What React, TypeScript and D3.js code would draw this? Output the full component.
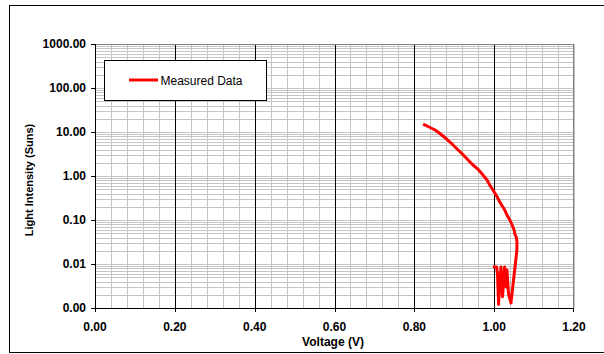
import React from "react";
import * as d3 from "d3";

const xTickValues = [0, 0.2, 0.4, 0.6, 0.8, 1.0, 1.2];
const xTickLabels = ["0.00", "0.20", "0.40", "0.60", "0.80", "1.00", "1.20"];
const yTickValues = [0.001, 0.01, 0.1, 1, 10, 100, 1000];
const yTickLabels = ["0.00", "0.01", "0.10", "1.00", "10.00", "100.00", "1000.00"];

const voltage = [
  0.822, 0.837, 0.852, 0.864, 0.877, 0.892, 0.909, 0.922, 0.934, 0.947, 0.959,
  0.972, 0.982, 0.989, 0.997, 1.007, 1.014, 1.025, 1.032, 1.040, 1.045, 1.050,
  1.052, 1.056, 1.057, 1.057, 1.042, 1.036, 1.032, 1.030, 1.026, 1.021, 1.017, 1.011,
  1.0085, 1.006, 0.997,
];
const intensity = [
  15.1, 13.0, 11.1, 9.25, 7.41, 5.62, 3.96, 3.05, 2.35, 1.78, 1.44,
  1.05, 0.81, 0.62, 0.48, 0.342, 0.256, 0.178, 0.13, 0.0975, 0.0769, 0.0593,
  0.0481, 0.039, 0.0316, 0.0208, 0.0013, 0.0021, 0.0073, 0.003, 0.0085, 0.0018, 0.0085, 0.0012,
  0.0059, 0.0085, 0.0085,
];

const L = 95, R = 574, T = 44, B = 308;

export default function App() {
  const x = d3.scaleLinear().domain([0, 1.2]).range([L, R]);
  const y = d3.scaleLog().domain([0.001, 1000]).range([B, T]);
  const px = (v: number) => Math.round(v) + 0.5;

  const minorX = d3.range(0, 31).map((i) => i * 0.04);
  const minorY: number[] = [];
  for (let e = -3; e < 3; e++) {
    for (let m = 1; m <= 9; m++) minorY.push(m * Math.pow(10, e));
  }
  minorY.push(1000);

  const pts = voltage.map((v, i) => [v, intensity[i]] as [number, number]);
  const line = d3
    .line<[number, number]>()
    .x((d) => x(d[0]))
    .y((d) => y(d[1]));

  const font = "Arial, 'Liberation Sans', Helvetica, sans-serif";

  return (
    <svg
      width={604}
      height={354}
      style={{ position: "absolute", left: 0, top: 0, background: "#fff" }}
      fontFamily={font}
    >
      <rect x={9.5} y={5.5} width={620} height={347} fill="#fff" stroke="#000" strokeWidth={1} />
      {minorY.map((v, i) => (
        <line key={"hy" + i} x1={L} x2={R} y1={px(y(v))} y2={px(y(v))} stroke="#c4c4c4" strokeWidth={1} />
      ))}
      {minorX.map((v, i) => (
        <line key={"mx" + i} x1={px(x(v))} x2={px(x(v))} y1={T} y2={B} stroke="#c4c4c4" strokeWidth={1} />
      ))}
      {xTickValues.slice(1, -1).map((v, i) => (
        <line key={"Mx" + i} x1={px(x(v))} x2={px(x(v))} y1={T} y2={B} stroke="#000" strokeWidth={1} />
      ))}
      <line x1={L} x2={R} y1={T + 0.5} y2={T + 0.5} stroke="#808080" />
      <line x1={R - 0.5} x2={R - 0.5} y1={T} y2={B} stroke="#808080" />
      <line x1={px(L)} x2={px(L)} y1={T} y2={B + 0.5} stroke="#000" />
      <line x1={L} x2={R} y1={B + 0.5} y2={B + 0.5} stroke="#000" />
      {xTickValues.map((v, i) => (
        <g key={"xt" + i}>
          <line x1={px(x(v)) - (i === xTickValues.length - 1 ? 1 : 0)} x2={px(x(v)) - (i === xTickValues.length - 1 ? 1 : 0)} y1={B} y2={B + 4} stroke="#000" />
          <text x={x(v)} y={331} textAnchor="middle" fontSize={12} fontWeight="bold" fill="#000">
            {xTickLabels[i]}
          </text>
        </g>
      ))}
      {yTickValues.map((v, i) => (
        <g key={"yt" + i}>
          <line x1={L - 4} x2={L} y1={px(y(v))} y2={px(y(v))} stroke="#000" />
          <text x={86} y={y(v) + 4.3} textAnchor="end" fontSize={12} fontWeight="bold" fill="#000">
            {yTickLabels[i]}
          </text>
        </g>
      ))}
      <path d={line(pts) || ""} fill="none" stroke="#ff0000" strokeWidth={3} strokeLinejoin="round" />
      <rect x={104.5} y={60.5} width={162} height={40} fill="#fff" stroke="#000" />
      <line x1={129} x2={158} y1={80} y2={80} stroke="#ff0000" strokeWidth={3} />
      <text x={160.5} y={85} fontSize={12} fill="#000">
        Measured Data
      </text>
      <text x={333} y={346} textAnchor="middle" fontSize={12} fontWeight="bold" fill="#000">
        Voltage (V)
      </text>
      <text
        transform={`translate(33,180) rotate(-90)`}
        textAnchor="middle"
        fontSize={11}
        fontWeight="bold"
        fill="#000"
      >
        Light Intensity (Suns)
      </text>
    </svg>
  );
}
